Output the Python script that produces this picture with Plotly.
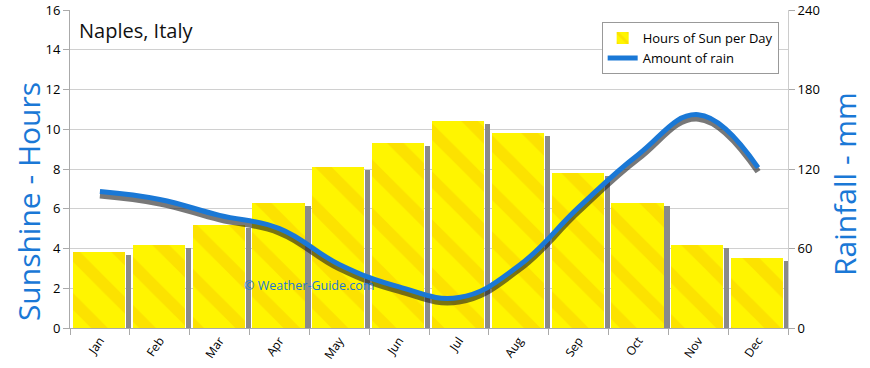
import plotly.graph_objects as go

months = ["Jan", "Feb", "Mar", "Apr", "May", "Jun", "Jul", "Aug", "Sep", "Oct", "Nov", "Dec"]
sun_hours = [3.8, 4.2, 5.2, 6.3, 8.1, 9.3, 10.4, 9.8, 7.8, 6.3, 4.2, 3.5]
rain_mm = [103, 97, 85, 75, 48, 31, 23, 47, 91, 131, 161, 121]
sun_ticks = [0, 2, 4, 6, 8, 10, 12, 14, 16]
rain_ticks = [0, 60, 120, 180, 240]

FONT = "Open Sans"
BLUE = "#1a78d6"

fig = go.Figure()

# yellow bars
fig.add_trace(go.Bar(
    x=months, y=sun_hours, name="Hours of Sun per Day",
    width=0.87, offset=-0.45,
    marker=dict(color="#fff500", line=dict(width=0),
                pattern=dict(shape="\\", bgcolor="#fff500", fgcolor="#f2b000",
                             fgopacity=0.28, size=34, solidity=0.35)),
    yaxis="y", hoverinfo="skip",
))
# bar shadows
fig.add_trace(go.Bar(
    x=months, y=sun_hours, showlegend=False,
    width=0.085, offset=0.435,
    marker=dict(color="#8a8a8a", line=dict(width=0)),
    yaxis="y2", hoverinfo="skip",
))
# line shadow
fig.add_trace(go.Scatter(
    x=months, y=rain_mm, mode="lines", showlegend=False,
    line=dict(color="rgba(30,30,30,0.6)", width=6, shape="spline", smoothing=1.2),
    yaxis="y3", hoverinfo="skip",
))
# rain line
fig.add_trace(go.Scatter(
    x=months, y=rain_mm, mode="lines", name="Amount of rain",
    line=dict(color=BLUE, width=5, shape="spline", smoothing=1.2),
    yaxis="y4", hoverinfo="skip",
))

fig.update_layout(
    width=870, height=368,
    margin=dict(l=70, r=82, t=10, b=40, autoexpand=False),
    paper_bgcolor="white", plot_bgcolor="white",
    font=dict(family=FONT, color="#111", size=13),
    barmode="overlay",
    bargap=0,
    xaxis=dict(
        type="category", tickson="boundaries", ticks="outside", ticklen=6,
        tickcolor="#aaa", tickangle=-55, tickfont=dict(size=12, color="#000"),
        showgrid=False, showline=True, linecolor="#aaa", mirror=False,
        range=[-0.5, 11.5], automargin=False,
    ),
    yaxis=dict(
        range=[0, 16], tickvals=sun_ticks, ticks="outside", ticklen=6, tickcolor="#aaa",
        showgrid=True, gridcolor="#d0d0d0", showline=True, linecolor="#aaa",
        zeroline=False, tickfont=dict(size=13, color="#000"), automargin=False,
    ),
    yaxis2=dict(range=[0.15, 16.15], overlaying="y", visible=False),
    yaxis3=dict(range=[3.0, 243.0], overlaying="y", visible=False),
    yaxis4=dict(
        range=[0, 240], tickvals=rain_ticks, overlaying="y", side="right",
        ticks="outside", ticklen=6, tickcolor="#aaa", showgrid=False,
        showline=True, linecolor="#ccc", zeroline=False,
        tickfont=dict(size=13, color="#000"), automargin=False,
    ),
    legend=dict(
        x=0.987, y=0.962, xanchor="right", yanchor="top",
        bgcolor="white", bordercolor="#999", borderwidth=1,
        font=dict(size=13, color="#000"), traceorder="normal", tracegroupgap=8,
    ),
    annotations=[
        dict(text="Naples, Italy", xref="paper", yref="paper", x=0.01, y=0.985,
             xanchor="left", yanchor="top", showarrow=False,
             font=dict(size=20, color="#111")),
        dict(text="© Weather-Guide.com", xref="paper", yref="paper", x=0.24, y=0.135,
             xanchor="left", yanchor="middle", showarrow=False,
             font=dict(size=12.5, color=BLUE)),
        dict(text="Sunshine - Hours", xref="paper", yref="paper", x=-0.0585, y=0.399,
             xanchor="center", yanchor="middle", textangle=-90, showarrow=False,
             font=dict(size=30, color=BLUE)),
        dict(text="Rainfall - mm", xref="paper", yref="paper", x=1.0794, y=0.453,
             xanchor="center", yanchor="middle", textangle=-90, showarrow=False,
             font=dict(size=30, color=BLUE)),
    ],
)

fig.write_html("out.html", config={"displayModeBar": False},
               post_script="document.body.style.margin='0';")
